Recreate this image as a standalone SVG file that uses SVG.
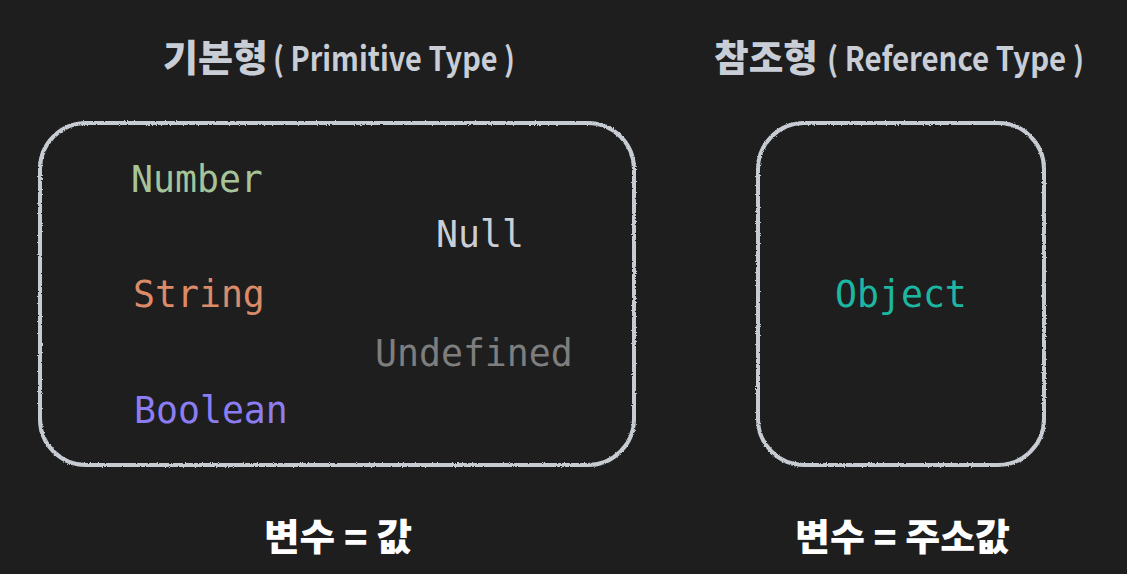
<svg xmlns="http://www.w3.org/2000/svg" width="1127" height="574" viewBox="0 0 1127 574">
  <defs>
    <filter id="chalk" x="-5%" y="-5%" width="110%" height="110%">
      <feTurbulence type="fractalNoise" baseFrequency="0.9" numOctaves="2" seed="3" result="n"/>
      <feDisplacementMap in="SourceGraphic" in2="n" scale="2.5" xChannelSelector="R" yChannelSelector="G"/>
    </filter>
  </defs>
  <style>
    .bg { fill: #1e1e1f; }
    .box { fill: none; stroke: #c7ccd2; stroke-width: 4; }
    .head { font-family: "Noto Sans CJK KR", "Noto Sans", sans-serif; fill: #c9ced6; }
    .hk { font-size: 37px; font-weight: 900; }
    .he { font-size: 33px; font-weight: 700; }
    .code { font-family: "DejaVu Sans Mono", "Liberation Mono", monospace; font-size: 36.5px; }
    .foot { font-family: "Noto Sans CJK KR", sans-serif; font-size: 37px; font-weight: 900; fill: #ffffff; }
  </style>
  <rect class="bg" x="0" y="0" width="1127" height="574"/>

  <g id="primitive-title">
    <text class="head hk" x="163" y="72" textLength="105" lengthAdjust="spacingAndGlyphs">기본형</text>
    <text class="head he" x="273" y="71" textLength="242" lengthAdjust="spacingAndGlyphs">( Primitive Type )</text>
  </g>
  <g id="reference-title">
    <text class="head hk" x="714" y="72" textLength="104" lengthAdjust="spacingAndGlyphs">참조형</text>
    <text class="head he" x="827" y="71" textLength="257" lengthAdjust="spacingAndGlyphs">( Reference Type )</text>
  </g>

  <g id="primitive-box">
    <rect class="box" filter="url(#chalk)" x="40" y="123" width="594" height="342" rx="46" ry="46"/>
    <text class="code" x="131" y="192" fill="#a6c499">Number</text>
    <text class="code" x="436" y="247" fill="#c9cfd7">Null</text>
    <text class="code" x="133" y="307" fill="#dc8b68">String</text>
    <text class="code" x="375" y="366" fill="#7e7e7e">Undefined</text>
    <text class="code" x="134" y="423" fill="#8c7df2">Boolean</text>
  </g>

  <g id="reference-box">
    <rect class="box" filter="url(#chalk)" x="758" y="123" width="286" height="342" rx="46" ry="46"/>
    <text class="code" x="835" y="307" fill="#1db6a3">Object</text>
  </g>

  <g id="primitive-caption">
    <text class="foot" x="264" y="551" textLength="148" lengthAdjust="spacingAndGlyphs">변수 = 값</text>
  </g>
  <g id="reference-caption">
    <text class="foot" x="795" y="551" textLength="215" lengthAdjust="spacingAndGlyphs">변수 = 주소값</text>
  </g>

  <g id="connectors"></g>
</svg>
